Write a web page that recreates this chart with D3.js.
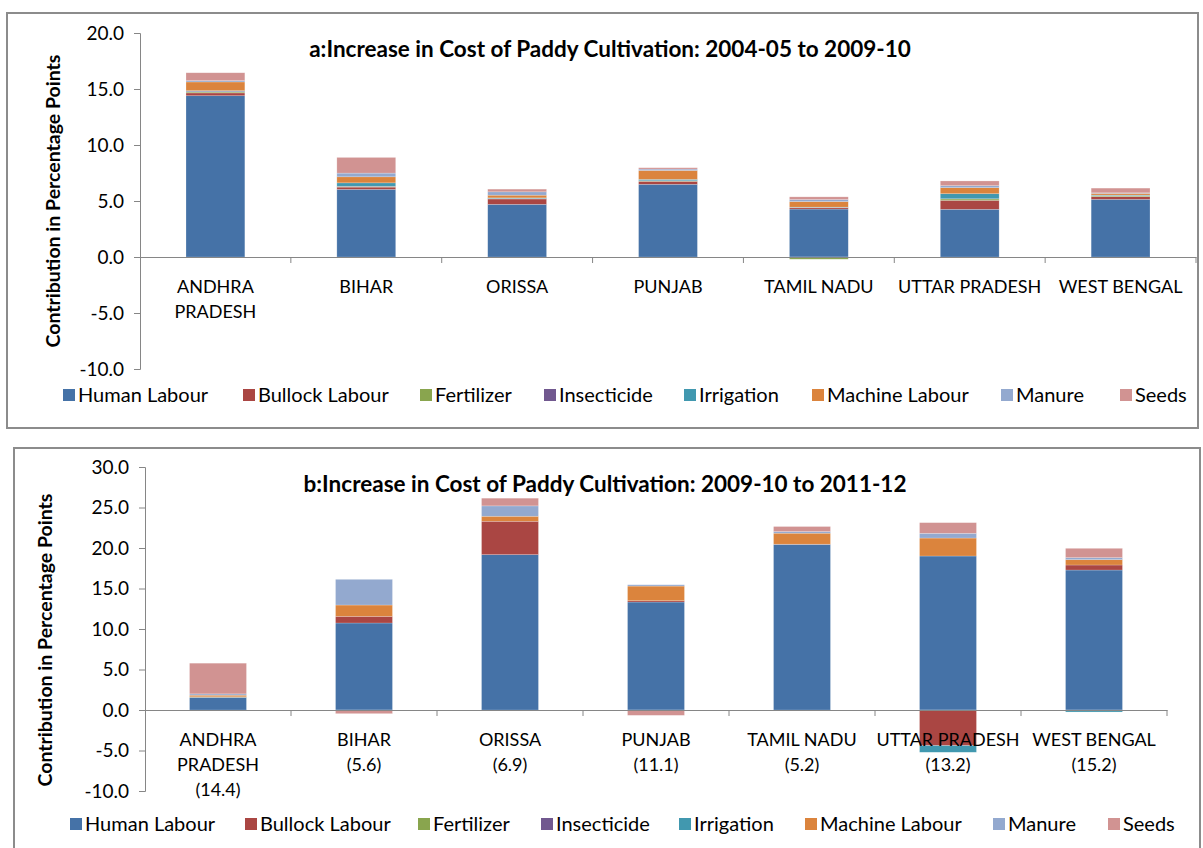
<!DOCTYPE html>
<html><head><meta charset="utf-8">
<script src="https://cdn.jsdelivr.net/npm/d3@7"></script>
<style>
html,body{margin:0;padding:0;background:#fff;}
svg{display:block;}
text{font-family:Lato,"Open Sans",sans-serif;fill:#000;}
</style></head>
<body>
<svg id="chart" width="1203" height="848"></svg>
<script>
// ---- data ----
const seriesNames = ["Human Labour","Bullock Labour","Fertilizer","Insecticide","Irrigation","Machine Labour","Manure","Seeds"];
const seriesColors = ["#4572A7","#AA4643","#89A54E","#71588F","#4198AF","#DB843D","#93A9CF","#D19392"];
const states = ["ANDHRA PRADESH","BIHAR","ORISSA","PUNJAB","TAMIL NADU","UTTAR PRADESH","WEST BENGAL"];
const stateLines = [["ANDHRA","PRADESH"],["BIHAR"],["ORISSA"],["PUNJAB"],["TAMIL NADU"],["UTTAR PRADESH"],["WEST BENGAL"]];
const notesB = ["(14.4)","(5.6)","(6.9)","(11.1)","(5.2)","(13.2)","(15.2)"];
const ticksA = [-10,-5,0,5,10,15,20];
const ticksB = [-10,-5,0,5,10,15,20,25,30];

// Panel a: 2004-05 to 2009-10
const humanA      = [14.40, 6.04, 4.70, 6.49, 4.28, 4.26, 5.15];
const bullockA    = [0.25, 0.20, 0.48, 0.27, 0.12, 0.80, 0.24];
const fertilizerA = [0.08, 0.05, 0.03, 0.03, -0.20, 0.12, 0.06];
const insectA     = [0.07, 0.03, 0.02, 0.02, 0.02, 0.02, 0.02];
const irrigationA = [0.05, 0.30, 0.05, 0.12, 0.03, 0.45, 0.06];
const machineA    = [0.78, 0.54, 0.24, 0.80, 0.50, 0.54, 0.15];
const manureA     = [0.12, 0.33, 0.30, 0.12, 0.18, 0.18, 0.05];
const seedsA      = [0.70, 1.40, 0.24, 0.12, 0.24, 0.42, 0.42];

// Panel b: 2009-10 to 2011-12
const humanB      = [1.56, 10.74, 19.18, 13.33, 20.45, 19.01, 17.28];
const bullockB    = [0.02, 0.82, 4.12, 0.16, 0.02, -4.40, 0.62];
const fertilizerB = [0.05, 0.00, 0.00, 0.00, 0.00, 0.00, 0.00];
const insectB     = [0.00, 0.00, 0.00, 0.00, 0.00, 0.00, 0.00];
const irrigationB = [0.00, 0.00, 0.00, 0.00, 0.00, -0.82, -0.25];
const machineB    = [0.20, 1.40, 0.62, 1.81, 1.36, 2.22, 0.66];
const manureB     = [0.16, 3.17, 1.28, 0.16, 0.20, 0.58, 0.25];
const seedsB      = [3.79, -0.45, 0.95, -0.66, 0.62, 1.32, 1.15];

const svg = d3.select("#chart");
const fmt = v => d3.format(".1f")(v).replace("\u2212","-");

function drawPanel(cfg){
  const g = svg.append("g");
  g.append("rect").attr("x",cfg.box[0]).attr("y",cfg.box[1]).attr("width",cfg.box[2]).attr("height",cfg.box[3])
    .attr("fill","#fff").attr("stroke","#8c8c8c").attr("stroke-width",2);

  const rows = states.map((s,i)=>{
    const r = {state:s, i:i};
    seriesNames.forEach((n,k)=>{ r[n] = cfg.values[k][i]; });
    return r;
  });
  const stack = d3.stack().keys(seriesNames).offset(d3.stackOffsetDiverging)(rows);

  const x = d3.scaleBand().domain(states).range([cfg.x0, cfg.x1]).paddingInner(0).paddingOuter(0);
  const y = d3.scaleLinear().domain(cfg.domain).range([cfg.yb, cfg.yt]);
  const bw = x.bandwidth()*0.39;

  // bars
  stack.forEach((layer,k)=>{
    g.append("g").selectAll("rect").data(layer).join("rect")
      .attr("x", d=> x(d.data.state) + (x.bandwidth()-bw)/2)
      .attr("width", bw)
      .attr("y", d=> y(Math.max(d[0],d[1])))
      .attr("height", d=> Math.abs(y(d[0])-y(d[1])))
      .attr("fill", seriesColors[k])
      .attr("stroke", "#ffffff").attr("stroke-opacity",0.35).attr("stroke-width",0.6);
  });

  // y axis
  const ya = g.append("g").attr("transform",`translate(${cfg.x0},0)`)
    .call(d3.axisLeft(y).tickValues(cfg.ticks).tickFormat(fmt).tickSize(6).tickPadding(10));
  ya.select(".domain").attr("stroke","#868686");
  ya.selectAll(".tick line").attr("stroke","#868686");
  ya.selectAll(".tick text").style("font-size","19px").style("font-family","Lato, sans-serif");

  // x axis at zero
  const xa = g.append("g").attr("transform",`translate(0,${y(0)})`)
    .call(d3.axisBottom(x).tickSize(0).tickFormat(""));
  xa.select(".domain").attr("stroke","#868686").attr("stroke-width",1.2);
  g.append("g").selectAll("line").data(states.slice(1).concat(["__end"])).join("line")
    .attr("x1",(d,i)=> i<states.length-1 ? x(d) : cfg.x1).attr("x2",(d,i)=> i<states.length-1 ? x(d) : cfg.x1)
    .attr("y1", y(0)).attr("y2", y(0)+6).attr("stroke","#868686");

  // category labels
  states.forEach((s,i)=>{
    const lines = stateLines[i].slice();
    if(cfg.notes) lines.push(cfg.notes[i]);
    const t = g.append("text").attr("text-anchor","middle").style("font-size","18px");
    lines.forEach((ln,j)=>{
      t.append("tspan").attr("x", x(s)+x.bandwidth()/2).attr("y", cfg.labelY + j*25).text(ln);
    });
  });

  // title
  g.append("text").attr("x",cfg.titleX).attr("y",cfg.titleY).attr("text-anchor","middle")
    .style("font-size","22.5px").style("font-weight","bold").text(cfg.title);

  // y title
  g.append("text").attr("transform",`translate(${cfg.ytX},${cfg.ytY}) rotate(-90)`)
    .attr("text-anchor","middle").style("font-size","19.5px").style("font-weight","bold")
    .text("Contribution in Percentage Points");

  // legend
  const lg = g.append("g");
  seriesNames.forEach((n,k)=>{
    const lx = cfg.legendX[k];
    lg.append("rect").attr("x",lx).attr("y",cfg.legendY-6).attr("width",12).attr("height",12).attr("fill",seriesColors[k]);
    lg.append("text").attr("x",lx+15).attr("y",cfg.legendY).attr("dy","0.35em").style("font-size","20px").text(n);
  });
}

drawPanel({
  box:[7,13,1191,415],
  values:[humanA,bullockA,fertilizerA,insectA,irrigationA,machineA,manureA,seedsA],
  x0:140, x1:1196, yt:33, yb:369, domain:[-10,20], ticks:ticksA,
  labelY:293, notes:null,
  title:"a:Increase in Cost of Paddy Cultivation: 2004-05 to 2009-10", titleX:610, titleY:57,
  ytX:60, ytY:201,
  legendY:395, legendX:[63,243,420,544,684,812,1001,1120]
});

drawPanel({
  box:[14,448,1186,410],
  values:[humanB,bullockB,fertilizerB,insectB,irrigationB,machineB,manureB,seedsB],
  x0:145, x1:1167, yt:467, yb:791, domain:[-10,30], ticks:ticksB,
  labelY:746, notes:notesB,
  title:"b:Increase in Cost of Paddy Cultivation: 2009-10 to 2011-12", titleX:605, titleY:492,
  ytX:52, ytY:640,
  legendY:824, legendX:[70,245,418,541,679,805,993,1108]
});
</script>
</body></html>
